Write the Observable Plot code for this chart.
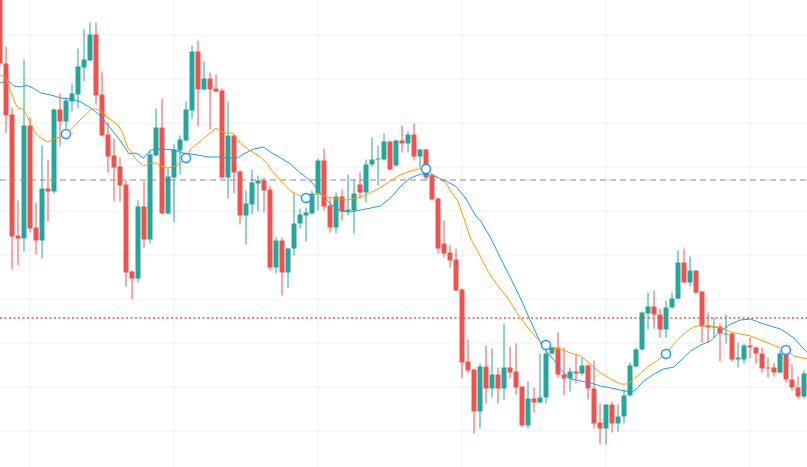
<!DOCTYPE html>
<html><head><meta charset="utf-8">
<script src="https://cdn.jsdelivr.net/npm/d3@7"></script>
<script src="https://cdn.jsdelivr.net/npm/@observablehq/plot@0.6"></script>
<style>html,body{margin:0;padding:0;background:#fff;overflow:hidden}</style>
</head><body><div id="chart"></div>
<script>
// OHLC per bar, first bar is index -1 (partly cut at the left edge)
const open  = [508,441,390,269,266,379,277,264,316,313,395,383,403,410,437,444,470,410,370,349,338,320,233,226,298,265,349,377,291,327,354,364,394,453,415,426,416,414,327,369,333,289,300,321,324,315,237,264,232,256,281,289,291,311,344,299,277,308,293,294,320,312,340,345,345,363,339,364,361,370,348,355,329,306,261,252,245,215,143,135,93,138,116,130,116,137,133,118,79,106,102,107,151,157,130,126,133,131,139,116,82,76,100,81,88,109,138,155,191,198,190,175,197,206,242,222,234,213,179,177,178,170,171,145,145,159,157,151,137,137,132,151,125,117,108];
const high  = [512,458,397,304,445,387,302,359,345,396,411,407,421,456,475,482,482,433,382,366,347,324,234,304,323,354,396,406,336,360,369,403,459,464,443,432,430,416,403,370,334,314,335,329,327,319,267,267,257,311,296,297,314,346,356,307,312,315,330,325,332,345,367,359,371,364,365,379,373,381,356,356,331,307,284,259,256,216,165,136,141,159,156,137,181,158,161,118,123,117,151,154,158,172,157,137,150,147,140,144,101,100,103,100,115,142,157,193,212,214,196,204,212,254,256,248,234,213,192,187,181,190,172,162,161,167,158,157,147,142,154,152,140,128,134];
const low   = [438,371,235,239,253,272,250,246,283,311,358,376,393,396,423,443,400,368,332,303,303,218,205,222,257,261,348,290,290,282,330,363,386,378,414,375,412,326,306,311,280,260,290,293,292,234,231,209,217,249,276,263,290,294,294,272,271,284,289,271,306,302,338,319,344,334,338,352,352,344,337,324,304,251,247,237,213,126,132,71,76,101,107,101,105,126,110,78,76,92,101,101,150,127,109,113,121,129,105,76,60,60,72,73,81,108,137,154,175,176,167,167,196,205,221,218,211,162,162,167,143,161,143,137,141,146,141,132,127,128,131,122,114,106,106];
const close = [441,389,268,266,379,276,264,316,313,395,383,404,411,438,445,470,409,369,348,337,319,232,226,298,265,350,377,291,328,355,365,395,453,415,426,415,413,327,369,332,289,301,322,324,314,237,264,232,256,281,290,292,311,344,298,277,308,293,295,311,312,340,345,346,363,335,364,361,370,348,355,327,305,256,251,244,214,142,134,93,138,116,130,116,137,132,117,79,106,102,107,151,157,130,126,133,131,139,116,81,76,100,81,88,109,139,155,192,198,190,175,197,206,242,222,234,212,178,177,178,171,171,145,147,159,157,151,136,136,132,151,125,117,108,131];

// moving averages: [bar position, value]
const blueIdx = [-0.9,0.3,1.3,2.5,3.3,4.5,5.8,7.5,9.1,10.8,12.5,14.1,15.8,17.5,19.1,20.5,21.3,22.0,22.9,24.1,25.8,28.0,29.6,32.0,33.6,35.3,37.0,38.6,39.6,41.3,42.9,44.1,45.8,47.4,49.1,50.8,52.4,54.1,55.8,57.4,59.1,60.8,62.4,64.1,65.8,67.4,69.1,70.8,73.3,74.9,76.6,78.3,79.1,80.8,82.4,84.1,85.8,87.4,89.1,90.3,91.6,92.4,94.1,95.8,97.4,99.1,100.8,102.4,104.1,104.9,106.3,108.0,109.6,111.3,112.9,114.1,115.8,117.4,119.1,120.8,122.4,124.1,125.8,127.4,129.1,131.3,133.6];
const blueVal = [422,424,419,418,420,417,412,410,407,406,403,397,389,376,364,351,352,351,347,355,356,355,352,350,348,348,347,347,351,356,358,353,347,341,332,324,312,301,294,293,295,297,299,307,319,327,331,330,324,319,307,289,284,267,247,227,206,184,162,152,143,136,126,124,122,119,117,115,113,115,124,131,136,138,147,154,160,164,174,181,185,186,182,179,176,167,152];
const orangeIdx = [-0.9,0.0,0.8,1.6,2.0,2.8,3.5,4.1,5.0,5.8,7.0,7.8,9.1,10.0,11.1,12.5,13.6,14.1,15.0,15.8,17.0,17.8,18.8,19.5,20.3,20.8,21.6,22.9,24.1,25.0,25.8,27.0,28.3,29.1,30.0,30.8,32.0,33.0,34.1,35.0,35.8,36.6,37.8,39.1,40.3,41.3,42.4,43.6,44.1,45.8,47.4,49.1,50.0,50.8,52.1,53.6,55.3,57.0,58.6,60.3,62.0,63.6,65.3,67.0,68.6,70.0,70.8,72.1,73.3,74.1,75.3,76.3,77.4,78.6,80.3,82.0,83.6,85.3,87.0,88.6,90.0,91.3,92.4,94.1,95.8,97.4,99.1,100.8,102.4,103.6,104.6,105.8,106.9,108.0,109.1,110.0,111.3,112.4,113.6,114.6,115.8,117.4,119.1,120.8,122.4,124.1,125.8,127.4,129.1,130.0,131.3,133.6];
const orangeVal = [430,427,414,401,397,396,389,381,371,367,363,366,368,371,377,386,392,396,396,394,387,384,379,371,357,354,346,339,342,342,339,337,339,342,347,356,362,367,372,377,374,372,372,362,356,352,348,341,336,324,314,309,307,309,311,308,306,305,307,311,316,322,329,333,336,336,332,327,322,314,304,287,267,254,234,219,207,191,177,166,160,157,156,152,149,141,132,126,121,121,126,132,138,142,147,151,161,168,174,178,180,179,177,173,171,169,165,161,157,155,149,146];

// circle markers on the orange average, every 20 bars
const markerIdx = [10,30,50,70,90,110,130];
const markerVal = [371,347,307,336,160,151,155];

// price lines and grid
const dashedLevel = 325;
const dottedLevel = 187;
const gridY = [470,426,382,338,294,250,206,162,118,74];
const gridX = [4,28,52,76,100,124];

const UP = "#26a69a", DOWN = "#ef5350";
const candles = open.map((o, k) => ({i: k - 1, o, h: high[k], l: low[k], c: close[k]}));
const blue = blueIdx.map((i, k) => ({i, v: blueVal[k]}));
const orange = orangeIdx.map((i, k) => ({i, v: orangeVal[k]}));
const markers = markerIdx.map((i, k) => ({i, v: markerVal[k]}));
const col = d => d.c >= d.o ? UP : DOWN;

const chart = Plot.plot({
  width: 807, height: 467,
  marginTop: 0, marginRight: 0, marginBottom: 0, marginLeft: 0,
  x: {type: "linear", domain: [-5.5/6, 801.5/6], axis: null},
  y: {type: "linear", domain: [37.5, 504.5], axis: null},
  color: {type: "identity"},
  style: {background: "#ffffff"},
  marks: [
    Plot.ruleY(gridY, {stroke: "#efefef", strokeWidth: 1}),
    Plot.ruleX(gridX, {stroke: "#efefef", strokeWidth: 1}),
    Plot.ruleX(candles, {x: "i", y1: "l", y2: "h", stroke: col, strokeWidth: 1, clip: true}),
    Plot.ruleX(candles, {x: "i", y1: "o", y2: "c", stroke: col, strokeWidth: 5, clip: true}),
    Plot.ruleY([dashedLevel], {stroke: "#8a8a8a", strokeWidth: 1, strokeDasharray: "6,4"}),
    Plot.ruleY([dottedLevel], {stroke: "#ef5350", strokeWidth: 1.3, strokeDasharray: "2,2.5"}),
    Plot.line(blue, {x: "i", y: "v", stroke: "#2196f3", strokeWidth: 1, clip: true}),
    Plot.line(orange, {x: "i", y: "v", stroke: "#ff9800", strokeWidth: 1, clip: true}),
    Plot.dot(markers, {x: "i", y: "v", r: 4.5, fill: "#ffffff", stroke: "#2196f3", strokeWidth: 1.5})
  ]
});
document.getElementById("chart").appendChild(chart);
</script>
</body></html>
